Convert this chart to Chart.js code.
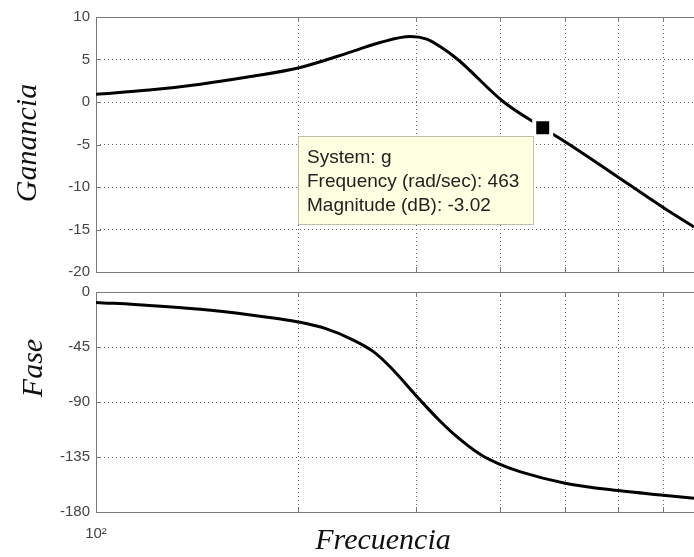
<!DOCTYPE html>
<html>
<head>
<meta charset="utf-8">
<script src="https://cdn.jsdelivr.net/npm/chart.js@4.4.1/dist/chart.umd.min.js"></script>
<style>
    html, body { margin: 0; padding: 0; background: #fff; }
    #wrap { position: relative; width: 694px; height: 557px; overflow: hidden; background: #fff; }
    #wrap canvas { position: absolute; left: 0; }
</style>
</head>
<body>
<div id="wrap">
    <canvas id="gain-canvas" width="694" height="280" style="top:0; width:694px; height:280px;"></canvas>
    <canvas id="phase-canvas" width="694" height="277" style="top:280px; width:694px; height:277px;"></canvas>
</div>
<script>
// frequency axis (rad/sec), log scale
const xMin = 100;
const xMax = 778;
const xGridTicks = [100, 200, 300, 400, 500, 600, 700];

// magnitude curve (dB)
const freqGain = [100, 120, 143, 170, 200, 240, 265, 294, 311, 326, 346, 405, 463, 514, 625, 700, 778];
const gainDb = [0.9, 1.4, 2.1, 3.0, 4.0, 5.9, 7.0, 7.7, 7.4, 6.5, 5.0, 0.0, -3.02, -5.3, -9.8, -12.4, -14.7];

// phase curve (deg)
const freqPhase = [100, 120, 143, 170, 185, 200, 220, 240, 259, 274, 304, 326, 340, 374, 396, 428, 500, 600, 700, 778];
const phaseDeg = [-8.5, -11, -14.2, -18.8, -21.5, -24.5, -30, -38.5, -48.8, -61, -88.4, -106, -115.4, -133, -140, -147, -156.4, -162.5, -166.3, -168.8];

// data tip marker
const markerFreq = [463];
const markerGain = [-3.02];
const tipLines = ['System: g', 'Frequency (rad/sec): ' + markerFreq[0], 'Magnitude (dB): ' + markerGain[0].toFixed(2)];

const tickFont = { family: "'Liberation Sans', Arial, sans-serif", size: 15 };
const tickColor = '#444';
const gridColor = '#666';
const frameColor = '#7a7a7a';
const titleFont = "italic 30px 'Liberation Serif', 'Times New Roman', serif";

function toPoints(xs, ys) {
    return xs.map((x, i) => ({ x: x, y: ys[i] }));
}

function xScale(showLabels, axisHeight) {
    return {
        type: 'logarithmic',
        min: xMin,
        max: xMax,
        afterBuildTicks: s => { s.ticks = xGridTicks.map(v => ({ value: v })); },
        afterFit: s => {
            s.height = axisHeight;
            s.paddingLeft = 0;
            s.paddingRight = 0;
        },
        grid: { color: gridColor, lineWidth: 1, drawTicks: false },
        border: { display: false, dash: [1, 3] },
        ticks: {
            display: showLabels,
            autoSkip: false,
            maxRotation: 0,
            padding: 13,
            color: tickColor,
            font: tickFont,
            callback: v => (v === xMin ? '10\u00B2' : '')
        }
    };
}

function yScale(min, max, step) {
    return {
        min: min,
        max: max,
        afterFit: s => {
            s.width = 96;
            // keep the plot box where the layout padding puts it
            s.paddingTop = 0;
            s.paddingBottom = 0;
        },
        grid: { color: gridColor, lineWidth: 1, drawTicks: false },
        border: { display: false, dash: [1, 3] },
        ticks: { stepSize: step, padding: 6, color: tickColor, font: tickFont }
    };
}

// solid box and inward tick marks like the MATLAB axes
const framePlugin = {
    id: 'matlabFrame',
    beforeDatasetsDraw(chart) {
        const { ctx, chartArea: a, scales } = chart;
        ctx.save();
        ctx.strokeStyle = frameColor;
        ctx.lineWidth = 1;
        ctx.strokeRect(a.left + 0.5, a.top + 0.5, a.right - a.left, a.bottom - a.top);
        ctx.beginPath();
        scales.y.ticks.forEach(t => {
            const y = Math.round(scales.y.getPixelForValue(t.value)) + 0.5;
            ctx.moveTo(a.left, y);
            ctx.lineTo(a.left + 5, y);
        });
        scales.x.ticks.forEach(t => {
            const x = Math.round(scales.x.getPixelForValue(t.value)) + 0.5;
            ctx.moveTo(x, a.bottom);
            ctx.lineTo(x, a.bottom - 5);
            ctx.moveTo(x, a.top);
            ctx.lineTo(x, a.top + 5);
        });
        ctx.stroke();
        ctx.restore();
    }
};

function axisTitle(id, text, baseX, centerY) {
    return {
        id: id,
        afterDraw(chart) {
            const ctx = chart.ctx;
            ctx.save();
            ctx.translate(baseX, centerY);
            ctx.rotate(-Math.PI / 2);
            ctx.font = titleFont;
            ctx.fillStyle = '#111';
            ctx.textAlign = 'center';
            ctx.textBaseline = 'alphabetic';
            ctx.fillText(text, 0, 0);
            ctx.restore();
        }
    };
}

const freqTitle = {
    id: 'freqTitle',
    afterDraw(chart) {
        const ctx = chart.ctx;
        ctx.save();
        ctx.font = titleFont;
        ctx.fillStyle = '#111';
        ctx.textAlign = 'center';
        ctx.textBaseline = 'alphabetic';
        ctx.fillText('Frecuencia', 383, 269);
        ctx.restore();
    }
};

// yellow data tip box anchored to the marker
const dataTip = {
    id: 'dataTip',
    afterDatasetsDraw(chart) {
        const { ctx, scales } = chart;
        const px = scales.x.getPixelForValue(markerFreq[0]);
        const py = scales.y.getPixelForValue(markerGain[0]);
        const w = 236, h = 89;
        const right = Math.round(px - 9), top = Math.round(py + 8);
        const left = right - w;
        ctx.save();
        ctx.fillStyle = '#ffffe1';
        ctx.strokeStyle = '#bdbdaa';
        ctx.lineWidth = 1;
        ctx.fillRect(left, top, w, h);
        ctx.strokeRect(left + 0.5, top + 0.5, w - 1, h - 1);
        ctx.fillStyle = '#222';
        ctx.font = "19px 'Liberation Sans', Arial, sans-serif";
        ctx.textAlign = 'left';
        ctx.textBaseline = 'alphabetic';
        tipLines.forEach((line, i) => {
            ctx.fillText(line, left + 9, top + 27 + i * 24);
        });
        ctx.restore();
    }
};

const commonPlugins = {
    legend: { display: false },
    tooltip: { enabled: false }
};

new Chart(document.getElementById('gain-canvas').getContext('2d'), {
    type: 'line',
    data: {
        datasets: [
            {
                data: toPoints(markerFreq, markerGain),
                showLine: false,
                pointStyle: 'rect',
                pointRadius: 12,
                pointBackgroundColor: '#000',
                pointBorderColor: '#fff',
                pointBorderWidth: 4,
                clip: false,
                order: 0
            },
            {
                data: toPoints(freqGain, gainDb),
                borderColor: '#000',
                borderWidth: 3,
                pointRadius: 0,
                fill: false,
                cubicInterpolationMode: 'monotone',
                order: 1
            }
        ]
    },
    options: {
        responsive: false,
        animation: false,
        layout: { autoPadding: false, padding: { top: 17, left: 0, right: 0, bottom: 0 } },
        scales: {
            x: xScale(false, 8),
            y: yScale(-20, 10, 5)
        },
        plugins: commonPlugins
    },
    plugins: [framePlugin, dataTip, axisTitle('gainTitle', 'Ganancia', 36, 143)]
});

new Chart(document.getElementById('phase-canvas').getContext('2d'), {
    type: 'line',
    data: {
        datasets: [{
            data: toPoints(freqPhase, phaseDeg),
            borderColor: '#000',
            borderWidth: 3,
            pointRadius: 0,
            fill: false,
            cubicInterpolationMode: 'monotone'
        }]
    },
    options: {
        responsive: false,
        animation: false,
        layout: { autoPadding: false, padding: { top: 12, left: 0, right: 0, bottom: 0 } },
        scales: {
            x: xScale(true, 45),
            y: yScale(-180, 0, 45)
        },
        plugins: commonPlugins
    },
    plugins: [framePlugin, axisTitle('phaseTitle', 'Fase', 42, 88), freqTitle]
});
</script>
</body>
</html>
